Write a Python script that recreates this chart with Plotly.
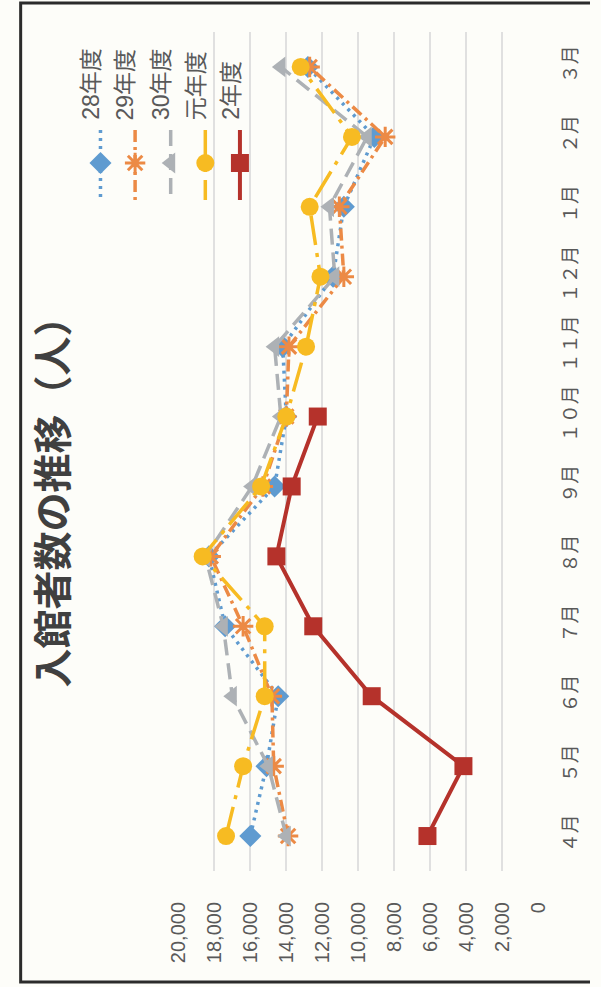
import plotly.graph_objects as go

# ---------------- data ----------------
months = ["４月", "５月", "６月", "７月", "８月", "９月", "１０月", "１１月", "１２月", "１月", "２月", "３月"]
names = ["28年度", "29年度", "30年度", "元年度", "2年度"]
v_h28 = [16000, 15100, 14450, 17400, 18300, 14650, 14000, 14200, 11400, 10800, 9100, 12800]
v_h29 = [13900, 14700, 14800, 16400, 18200, 15300, 14000, 13850, 10800, 11050, 8500, 12700]
v_h30 = [14000, 15000, 17000, 17500, 18500, 15900, 14300, 14650, 11300, 11600, 9500, 14300]
v_r1 = [17350, 16400, 15200, 15200, 18650, 15400, 14000, 12900, 12100, 12700, 10350, 13200]
v_r2 = [6150, 4150, 9250, 12500, 14550, 13700, 12250, None, None, None, None, None]
value_ticks = [0, 2000, 4000, 6000, 8000, 10000, 12000, 14000, 16000, 18000, 20000]
title_text = "入館者数の推移（人）"

series = [v_h28, v_h29, v_h30, v_r1, v_r2]

# ---------------- styles ----------------
W, H = 601, 987
FONT = "Liberation Sans, Noto Sans CJK JP, sans-serif"
styles = [
    dict(color="#5f9bd0", dash="3px,5px", symbol="diamond", size=17, lw=3.5),
    dict(color="#ec8a45", dash="12px,5px,3px,5px", symbol="asterisk-open", size=17, lw=3.5),
    dict(color="#adb1b5", dash="16px,8px", symbol="triangle-left", size=18, lw=3.5),
    dict(color="#f7bb22", dash="30px,8px,4px,8px", symbol="circle", size=18, lw=3.5),
    dict(color="#b5322b", dash="solid", symbol="square", size=18, lw=4),
]

fig = go.Figure()

for name, vals, st in zip(names, series, styles):
    mk = dict(symbol=st["symbol"], size=st["size"], color=st["color"])
    if st["symbol"] == "asterisk-open":
        mk["line"] = dict(color=st["color"], width=3)
    else:
        mk["line"] = dict(width=0)
    fig.add_trace(go.Scatter(
        x=vals, y=months, name=name, mode="lines+markers",
        line=dict(color=st["color"], width=st["lw"], dash=st["dash"]),
        marker=mk, xaxis="x", yaxis="y", showlegend=False,
        connectgaps=False, hoverinfo="skip"))

# ---------------- manual rotated legend (pixel-space overlay axes) ----------------
leg_x = [92, 128, 165, 201, 237]
for name, st, cx in zip(names, styles, leg_x):
    fig.add_trace(go.Scatter(
        x=[cx, cx], y=[130, 200], mode="lines",
        line=dict(color=st["color"], width=st["lw"], dash=st["dash"]),
        xaxis="x2", yaxis="y2", showlegend=False, hoverinfo="skip"))
    mk = dict(symbol=st["symbol"], size=st["size"], color=st["color"])
    if st["symbol"] == "asterisk-open":
        mk["line"] = dict(color=st["color"], width=3)
    else:
        mk["line"] = dict(width=0)
    fig.add_trace(go.Scatter(
        x=[cx], y=[163], mode="markers", marker=mk,
        xaxis="x2", yaxis="y2", showlegend=False, hoverinfo="skip"))
    fig.add_annotation(
        x=cx - 10, y=122, xref="x2", yref="y2", text=name, showarrow=False,
        textangle=-90, xanchor="center", yanchor="bottom",
        font=dict(family=FONT, size=23, color="#595959"))

# title (rotated)
fig.add_annotation(
    x=40, y=492, xref="x2", yref="y2", text="<b>" + title_text + "</b>",
    showarrow=False, textangle=-90, xanchor="center", yanchor="middle",
    font=dict(family="Noto Sans CJK JP, sans-serif", size=39, color="#404040"))

# outer border
fig.add_shape(type="rect", xref="x2", yref="y2", x0=9, x1=640, y0=3, y1=982,
              line=dict(color="#2b2b2b", width=3), fillcolor="rgba(0,0,0,0)")

fig.update_layout(
    width=W, height=H, autosize=False,
    margin=dict(l=0, r=0, t=0, b=0, pad=0),
    paper_bgcolor="#fdfdf9", plot_bgcolor="rgba(0,0,0,0)",
    xaxis=dict(
        domain=[173 / W, 547 / W], range=[20000, 0], anchor="y",
        tickvals=value_ticks, tickformat=",d", tickangle=-90,
        showgrid=True, gridcolor="#e0e0e0", gridwidth=1.5,
        zeroline=False, showline=False, ticks="", ticklabelstandoff=26,
        tickfont=dict(family=FONT, size=20, color="#595959"), fixedrange=True),
    yaxis=dict(
        domain=[1 - 871 / H, 1 - 32 / H], type="category",
        categoryorder="array", categoryarray=months, range=[-0.5, 11.5],
        anchor="x", side="right", tickangle=-90, showgrid=False,
        zeroline=False, showline=False, ticks="", ticklabelstandoff=19,
        tickfont=dict(family=FONT, size=19, color="#595959"), fixedrange=True),
    xaxis2=dict(domain=[0, 1], range=[0, W], anchor="y2", visible=False, fixedrange=True),
    yaxis2=dict(domain=[0, 1], range=[H, 0], anchor="x2", visible=False, fixedrange=True),
)

fig.write_html("out.html")
